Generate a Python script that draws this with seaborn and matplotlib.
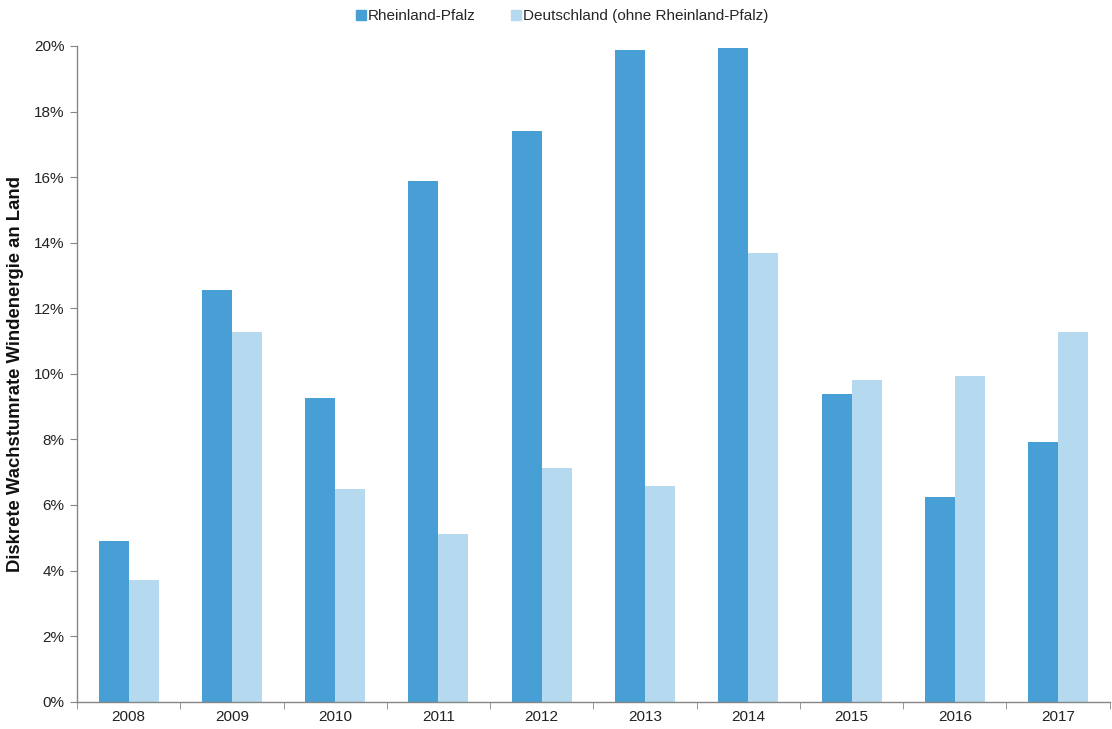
import matplotlib
matplotlib.use("Agg")
import matplotlib.pyplot as plt
import seaborn as sns
import pandas as pd
import numpy as np
from matplotlib.ticker import FuncFormatter, FixedLocator
from matplotlib.lines import Line2D

years = ["2008", "2009", "2010", "2011", "2012", "2013", "2014", "2015", "2016", "2017"]
rheinland_pfalz = [4.90, 12.55, 9.26, 15.87, 17.40, 19.89, 19.93, 9.40, 6.24, 7.92]
deutschland = [3.72, 11.27, 6.48, 5.11, 7.12, 6.58, 13.68, 9.81, 9.92, 11.28]
series_names = ["Rheinland-Pfalz", "Deutschland (ohne Rheinland-Pfalz)"]
colors = ["#479FD6", "#B5D9EF"]

df = pd.DataFrame({
    "Jahr": years * 2,
    "Wert": rheinland_pfalz + deutschland,
    "Serie": [series_names[0]] * len(years) + [series_names[1]] * len(years),
})

sns.set_style("white")
plt.rcParams["font.family"] = ["Liberation Sans", "DejaVu Sans"]

fig = plt.figure(figsize=(11.12, 7.29), dpi=100)
ax = fig.add_axes([0.0692, 0.0374, 0.9288, 0.8996])

sns.barplot(data=df, x="Jahr", y="Wert", hue="Serie", palette=colors,
            width=0.58, gap=0, ax=ax, legend=False, saturation=1,
            edgecolor="none", linewidth=0)

ax.set_ylim(0, 20)
ax.set_xlim(-0.5, len(years) - 0.5)
ax.set_yticks(np.arange(0, 21, 2))
ax.yaxis.set_major_formatter(FuncFormatter(lambda v, p: f"{int(v)}%"))

gray = "#868686"
for s in ["top", "right"]:
    ax.spines[s].set_visible(False)
ax.spines["left"].set_color(gray)
ax.spines["bottom"].set_color(gray)
ax.spines["left"].set_linewidth(1.0)
ax.spines["bottom"].set_linewidth(1.0)

ax.tick_params(axis="y", which="major", direction="out", length=5, color=gray,
               labelsize=11, labelcolor="#222222", pad=4, left=True)
ax.tick_params(axis="x", which="major", length=0, labelsize=11,
               labelcolor="#222222", pad=6)
ax.xaxis.set_minor_locator(FixedLocator(np.arange(-0.5, len(years), 1.0)))
ax.tick_params(axis="x", which="minor", direction="out", length=5, color=gray,
               bottom=True)

ax.set_xlabel("")
ax.set_ylabel("Diskrete Wachstumrate Windenergie an Land", fontsize=13.3,
              fontweight="bold", color="#111111")
ax.yaxis.set_label_coords(-0.051, 0.5)

handles = [Line2D([0], [0], marker="s", linestyle="none", markersize=7,
                  markerfacecolor=c, markeredgecolor=c) for c in colors]
fig.legend(handles, series_names, loc="center", bbox_to_anchor=(0.505, 0.978),
           ncol=2, frameon=False, fontsize=11, handletextpad=0.05,
           columnspacing=2.2, handlelength=0.8)

fig.savefig("out.png", dpi=100)
